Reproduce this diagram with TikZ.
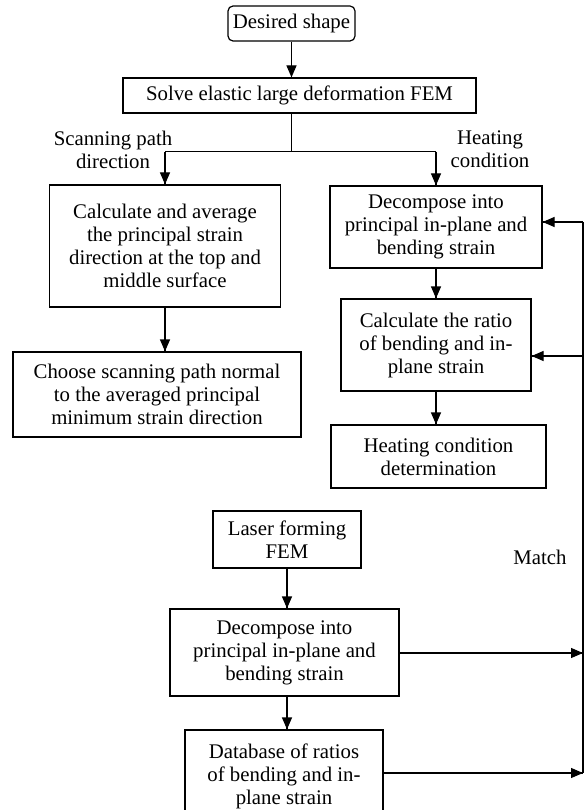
\documentclass[tikz,border=0pt]{standalone}
\usepackage{fontspec}
\setmainfont{Liberation Serif}
\usepackage{tikz}
\usetikzlibrary{calc}
\usetikzlibrary{arrows.meta,decorations.markings}

\tikzset{
	box/.style={draw, line width=1.2pt, align=center, inner sep=0pt, font=\fontsize{20.8}{23}\selectfont},
	lbl/.style={align=center, inner sep=0pt, font=\fontsize{20.8}{23}\selectfont},
	wire/.style={line width=1.2pt},
	flow/.style={line width=1.2pt, decoration={markings,mark=at position 1 with {\arrow{Triangle[length=12pt,width=10pt]}}},postaction={decorate}},
}

\begin{document}
\begin{tikzpicture}[x=1pt,y=-1pt]
			\useasboundingbox (0,0) rectangle (584,810);

			\node[box, rounded corners=5pt, minimum width=127pt, minimum height=35pt] (desired) at (291.5,23.5) {Desired shape};
			\node[box, minimum width=353pt, minimum height=35pt] (solve) at (299.5,95.5) {Solve elastic large deformation FEM};

			%left branch
			\node[box, minimum width=231pt, minimum height=122pt] (calcavg) at (165,246) {Calculate and average\\the principal strain\\direction at the top and\\middle surface};
			\node[box, minimum width=288pt, minimum height=85pt] (choose) at (157,394.5) {Choose scanning path normal\\to the averaged principal\\minimum strain direction};
			\node[lbl] (scanlbl) at ($(calcavg.north)+(-52,-35)$) {Scanning path\\direction};

			%right branch
			\node[box, minimum width=212pt, minimum height=82pt] (decompA) at (436,227) {Decompose into\\principal in-plane and\\bending strain};
			\node[box, minimum width=190pt, minimum height=92pt] (ratio) at (436,345) {Calculate the ratio\\of bending and in-\\plane strain};
			\node[box, minimum width=215pt, minimum height=63pt] (heatcond) at (438.5,456.5) {Heating condition\\determination};
			\node[lbl] (heatlbl) at ($(decompA.north)+(54,-36)$) {Heating\\condition};

			%database part
			\node[box, minimum width=148pt, minimum height=57pt] (laser) at (287,539.5) {Laser forming\\FEM};
			\node[box, minimum width=229pt, minimum height=87pt] (decompB) at (284.5,652.5) {Decompose into\\principal in-plane and\\bending strain};
			\node[box, minimum width=198pt, minimum height=92pt] (database) at (284,776) {Database of ratios\\of bending and in-\\plane strain};
			\node[lbl] (matchlbl) at (540,557) {Match};

			\coordinate (split) at ($(desired.south |- solve.south)+(0,38)$);
			\coordinate (fbA) at (583,222);
			\coordinate (fbB) at (583,356);
			\coordinate (fbC) at (583,653);
			\coordinate (fbD) at (583,773);

			\draw[flow] (desired.south) -- (desired.south |- solve.north);
			\draw[wire] (desired.south |- solve.south) -- (split);
			\draw[wire] (calcavg.north |- split) -- (decompA.north |- split);
			\draw[flow] (calcavg.north |- split) -- (calcavg.north);
			\draw[flow] (decompA.north |- split) -- (decompA.north);
			\draw[flow] (calcavg.south) -- (calcavg.south |- choose.north);
			\draw[flow] (decompA.south) -- (decompA.south |- ratio.north);
			\draw[flow] (ratio.south) -- (ratio.south |- heatcond.north);
			\draw[flow] (laser.south) -- (laser.south |- decompB.north);
			\draw[flow] (laser.south |- decompB.south) -- (laser.south |- database.north);

			%match loop
			\draw[wire] (fbA) -- (fbD);
			\draw[flow] (fbA) -- (fbA -| decompA.east);
			\draw[flow] (fbB) -- (fbB -| ratio.east);
			\draw[flow] (decompB.east |- fbC) -- (fbC);
			\draw[flow] (database.east |- fbD) -- (fbD);

		\end{tikzpicture}
\end{document}
